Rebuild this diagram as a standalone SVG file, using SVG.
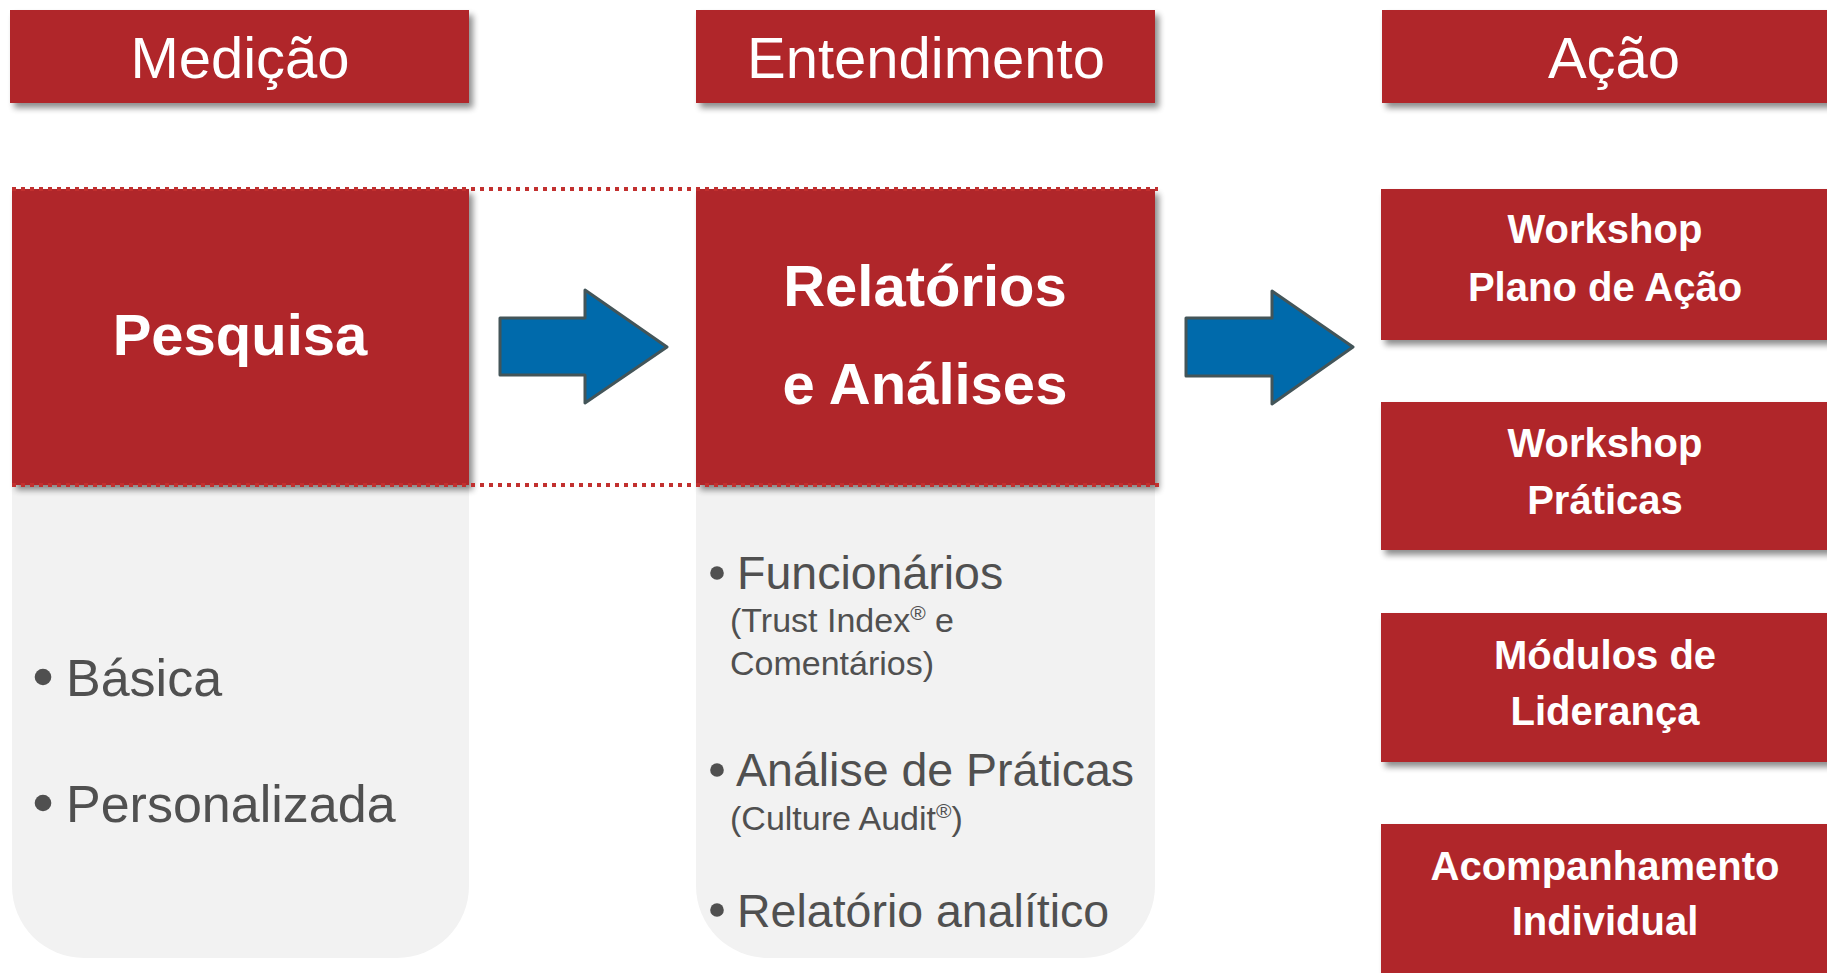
<svg xmlns="http://www.w3.org/2000/svg" width="1827" height="973" viewBox="0 0 1827 973">
<defs>
<filter id="sh" x="-10%" y="-10%" width="130%" height="140%">
<feGaussianBlur in="SourceAlpha" stdDeviation="3"/>
<feOffset dx="4" dy="5" result="b"/>
<feComponentTransfer><feFuncA type="linear" slope="0.45"/></feComponentTransfer>
<feMerge><feMergeNode/><feMergeNode in="SourceGraphic"/></feMerge>
</filter>
<style>
.red{fill:#b0282b}
.panel{fill:#f2f2f2}
.hdr{font-family:"Liberation Sans",Arial,sans-serif;font-size:58px;fill:#ffffff;text-anchor:middle}
.big{font-family:"Liberation Sans",Arial,sans-serif;font-size:58px;font-weight:bold;fill:#ffffff;text-anchor:middle}
.act{font-family:"Liberation Sans",Arial,sans-serif;font-size:40px;font-weight:bold;fill:#ffffff;text-anchor:middle}
.b1{font-family:"Liberation Sans",Arial,sans-serif;font-size:52px;fill:#505050}
.b2{font-family:"Liberation Sans",Arial,sans-serif;font-size:46.5px;fill:#505050}
.sub{font-family:"Liberation Sans",Arial,sans-serif;font-size:34px;fill:#505050}
.dot{fill:#505050}
.dotted{stroke:#c2302f;stroke-width:4;stroke-dasharray:4 5;fill:none}
.arrow{fill:#006aab;stroke:#435559;stroke-width:3;stroke-linejoin:round}
</style>
</defs>
<rect width="1827" height="973" fill="#ffffff"/>

<g id="medicao-header">
<rect class="red" x="10" y="10" width="459" height="93" filter="url(#sh)"/>
<text class="hdr" x="240" y="78">Medição</text>
</g>
<g id="entendimento-header">
<rect class="red" x="696" y="10" width="459" height="93" filter="url(#sh)"/>
<text class="hdr" x="926" y="78">Entendimento</text>
</g>
<g id="acao-header">
<rect class="red" x="1382" y="10" width="460" height="93" filter="url(#sh)"/>
<text class="hdr" x="1614" y="78">Ação</text>
</g>

<g id="medicao-panel">
<path class="panel" d="M12 485 H469 V886 A72 72 0 0 1 397 958 H84 A72 72 0 0 1 12 886 Z"/>
<circle class="dot" cx="43" cy="677" r="8.3"/>
<text class="b1" x="66" y="696">Básica</text>
<circle class="dot" cx="43" cy="803" r="8.3"/>
<text class="b1" x="66" y="822">Personalizada</text>
</g>

<g id="entendimento-panel">
<path class="panel" d="M696 485 H1155 V886 A72 72 0 0 1 1083 958 H768 A72 72 0 0 1 696 886 Z"/>
<circle class="dot" cx="717" cy="573" r="6.8"/>
<text class="b2" x="737" y="589">Funcionários</text>
<text class="sub" x="730" y="632">(Trust Index<tspan font-size="21" dy="-12">®</tspan><tspan dy="12"> e</tspan></text>
<text class="sub" x="730" y="675">Comentários)</text>
<circle class="dot" cx="717" cy="770" r="6.8"/>
<text class="b2" x="736" y="786">Análise de Práticas</text>
<text class="sub" x="730" y="830">(Culture Audit<tspan font-size="21" dy="-12">®</tspan><tspan dy="12">)</tspan></text>
<circle class="dot" cx="717" cy="910" r="6.8"/>
<text class="b2" x="737" y="927">Relatório analítico</text>
</g>

<g id="pesquisa">
<rect class="red" x="12" y="189" width="457" height="296" filter="url(#sh)"/>
<text class="big" x="240" y="355">Pesquisa</text>
</g>

<g id="relatorios">
<rect class="red" x="696" y="189" width="459" height="296" filter="url(#sh)"/>
<text class="big" x="925" y="306">Relatórios</text>
<text class="big" x="925" y="404">e Análises</text>
</g>

<g id="dotted-frame">
<line class="dotted" x1="12" y1="189" x2="1158" y2="189"/>
<line class="dotted" x1="12" y1="485" x2="1160" y2="485"/>
</g>

<g id="workshop-plano">
<rect class="red" x="1381" y="189" width="460" height="151" filter="url(#sh)"/>
<text class="act" x="1605" y="243">Workshop</text>
<text class="act" x="1605" y="301">Plano de Ação</text>
</g>
<g id="workshop-praticas">
<rect class="red" x="1381" y="402" width="460" height="148" filter="url(#sh)"/>
<text class="act" x="1605" y="457">Workshop</text>
<text class="act" x="1605" y="514">Práticas</text>
</g>
<g id="modulos">
<rect class="red" x="1381" y="613" width="460" height="149" filter="url(#sh)"/>
<text class="act" x="1605" y="669">Módulos de</text>
<text class="act" x="1605" y="725">Liderança</text>
</g>
<g id="acompanhamento">
<rect class="red" x="1381" y="824" width="460" height="160" filter="url(#sh)"/>
<text class="act" x="1605" y="880">Acompanhamento</text>
<text class="act" x="1605" y="935">Individual</text>
</g>

<g id="connectors">
<path class="arrow" d="M500 318 H585 V290 L667 347 L585 403 V375 H500 Z"/>
<path class="arrow" d="M1186 318 H1272 V291 L1353 347 L1272 404 V376 H1186 Z"/>
</g>
</svg>
